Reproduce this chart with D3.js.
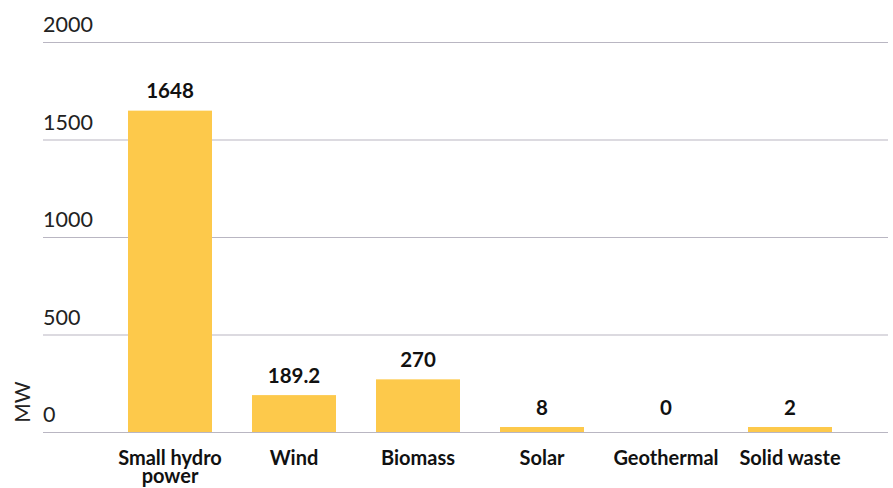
<!DOCTYPE html>
<html><head><meta charset="utf-8">
<script src="https://cdn.jsdelivr.net/npm/d3@7"></script>
<style>body{margin:0;background:#fff}svg{display:block}</style>
</head><body>
<svg id="c" width="893" height="488"></svg>
<script>
const categories = ["Small hydro power", "Wind", "Biomass", "Solar", "Geothermal", "Solid waste"];
const categoryLines = [["Small hydro", "power"], ["Wind"], ["Biomass"], ["Solar"], ["Geothermal"], ["Solid waste"]];
const values = [1648, 189.2, 270, 8, 0, 2];
const valueLabels = ["1648", "189.2", "270", "8", "0", "2"];
const yTicks = [0, 500, 1000, 1500, 2000];
const yTitle = "MW";

const svg = d3.select("#c");
const font = "Lato, 'Open Sans', sans-serif";
const y = d3.scaleLinear().domain([0, 2000]).range([432, 42]);
const x = d3.scaleBand().domain(categories).range([88, 872]).paddingInner(40/124).paddingOuter(40/124);
const minH = 5;

// gridlines
svg.append("g").selectAll("line").data(yTicks).join("line")
  .attr("x1", 43).attr("x2", 888)
  .attr("y1", d => y(d) + 0.5).attr("y2", d => y(d) + 0.5)
  .attr("stroke", "#b9b6c2").attr("stroke-width", 1.2);
svg.append("g").selectAll("text").data(yTicks).join("text")
  .attr("x", 43).attr("y", d => y(d) - 10)
  .attr("font-family", font).attr("font-size", 21.5).attr("fill", "#222")
  .text(d => d);

// bars
const data = categories.map((c, i) => ({c, v: values[i], lab: valueLabels[i], lines: categoryLines[i]}));
const topOf = d => Math.min(y(d.v), y(0) - minH);
svg.append("g").selectAll("rect").data(data.filter(d => d.v > 0)).join("rect")
  .attr("x", d => x(d.c)).attr("width", x.bandwidth())
  .attr("y", d => topOf(d)).attr("height", d => y(0) - topOf(d))
  .attr("fill", "#fdc94b");

// value labels
svg.append("g").selectAll("text").data(data).join("text")
  .attr("x", d => x(d.c) + x.bandwidth()/2).attr("y", d => topOf(d) - 12.5)
  .attr("text-anchor", "middle").attr("font-family", font).attr("font-weight", 700)
  .attr("font-size", 20.5).attr("fill", "#111").text(d => d.lab);

// category labels
const cl = svg.append("g").selectAll("text").data(data).join("text")
  .attr("text-anchor", "middle").attr("font-family", font).attr("font-weight", 700)
  .attr("font-size", 20).attr("fill", "#111");
cl.selectAll("tspan").data(d => d.lines.map((t, j) => ({t, j, d}))).join("tspan")
  .attr("x", e => x(e.d.c) + x.bandwidth()/2).attr("y", e => 465 + e.j * 18).text(e => e.t);

// y title
svg.append("text").attr("transform", "translate(30,402) rotate(-90)")
  .attr("text-anchor", "middle").attr("font-family", font).attr("font-size", 21)
  .attr("fill", "#222").text(yTitle);
</script>
</body></html>
